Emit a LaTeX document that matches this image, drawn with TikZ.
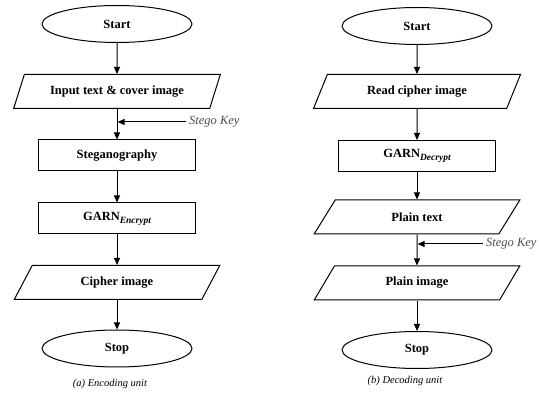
\documentclass[tikz,border=0pt]{standalone}
\usepackage{fontspec}
\setmainfont{Liberation Serif}
\usetikzlibrary{shapes.geometric,arrows.meta}
\newcommand{\garn}[1]{GARN\raisebox{-3pt}{\fontsize{9.5}{9.5}\selectfont\bfseries\itshape #1}}
\tikzset{
  term/.style={ellipse,draw,line width=1pt,minimum width=150pt,minimum height=37pt,font=\fontsize{12.5}{14}\selectfont\bfseries},
  proc/.style={rectangle,draw,line width=1pt,minimum width=157pt,minimum height=31pt,font=\fontsize{12.5}{14}\selectfont\bfseries},
  io/.style={trapezium,trapezium left angle=67,trapezium right angle=113,trapezium stretches=true,draw,line width=1pt,
    minimum width=207pt,minimum height=34pt,inner xsep=0pt,font=\fontsize{12.5}{14}\selectfont\bfseries},
  flow/.style={line width=1pt,-{Triangle[length=7pt,width=6pt]}},
  keylabel/.style={font=\fontsize{12.5}{14}\selectfont\itshape,text=black!70,inner sep=3pt},
  caption/.style={font=\fontsize{10.5}{12}\selectfont\itshape}
}
\begin{document}
\begin{tikzpicture}[x=1pt,y=-1pt]
  \useasboundingbox (0,0) rectangle (539,393);
  % (a) encoding
  \node[term] (startA) at (117,24) {Start};
  \node[io] (inA) at (117,91.5) {Input text \& cover image};
  \node[proc] (stegA) at (117,155.5) {Steganography};
  \node[proc] (garnA) at (117,218.5) {\garn{Encrypt}};
  \node[io] (outA) at (117,282.5) {Cipher image};
  \node[term] (stopA) at (117,348.5) {Stop};
  \node[caption] (capA) at (110,384) {(a) Encoding unit};
  \node[keylabel,anchor=west] (keyA) at (186,122) {Stego Key};
  \draw[flow] (startA) -- (inA);
  \draw[flow] (inA) -- (stegA);
  \draw[flow] (stegA) -- (garnA);
  \draw[flow] (garnA) -- (outA);
  \draw[flow] (outA) -- (stopA);
  \draw[flow,shorten >=0.6pt] (keyA.west) -- (keyA.west -| inA.south);
  % (b) decoding
  \node[term] (startB) at (417,26) {Start};
  \node[io] (inB) at (417,91.5) {Read cipher image};
  \node[proc] (garnB) at (417,156) {\garn{Decrypt}};
  \node[io] (plainB) at (417,217) {Plain text};
  \node[io] (imgB) at (417,283) {Plain image};
  \node[term] (stopB) at (417,350) {Stop};
  \node[caption] (capB) at (405,381) {(b) Decoding unit};
  \node[keylabel,anchor=west] (keyB) at (483,244) {Stego Key};
  \draw[flow] (startB) -- (inB);
  \draw[flow] (inB) -- (garnB);
  \draw[flow] (garnB) -- (plainB);
  \draw[flow] (plainB) -- (imgB);
  \draw[flow] (imgB) -- (stopB);
  \draw[flow,shorten >=0.6pt] (keyB.west) -- (keyB.west -| plainB.south);
\end{tikzpicture}
\end{document}
